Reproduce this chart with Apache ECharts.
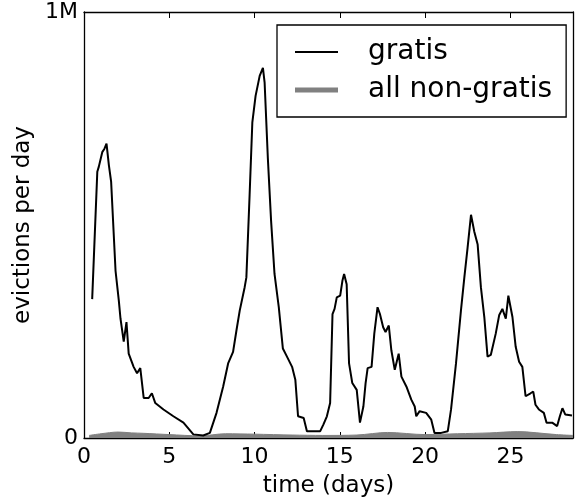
<!DOCTYPE html>
<html>
<head>
<meta charset="utf-8">
<script src="https://cdn.jsdelivr.net/npm/echarts@6/dist/echarts.min.js"></script>
<style>html,body{margin:0;padding:0;background:#fff}#c{width:576px;height:503px}</style>
</head>
<body>
<div id="c"></div>
<script>
const gratisDays = [0.48,0.78,0.87,1.07,1.2,1.32,1.46,1.59,1.85,2.04,2.14,2.33,2.49,2.62,2.91,3.11,3.3,3.5,3.79,3.98,4.18,4.66,5.24,5.83,6.41,6.99,7.38,7.77,8.16,8.45,8.74,8.94,9.13,9.42,9.52,9.71,9.87,10.06,10.3,10.49,10.59,10.78,10.97,11.17,11.42,11.66,11.9,12.2,12.39,12.55,12.88,13.07,13.85,14.04,14.24,14.43,14.57,14.69,14.82,15.02,15.15,15.25,15.4,15.54,15.73,15.99,16.18,16.38,16.51,16.63,16.86,17.02,17.21,17.35,17.54,17.68,17.87,18.02,18.22,18.45,18.61,18.9,19.19,19.39,19.48,19.68,20.06,20.36,20.55,20.94,21.33,21.52,21.81,22.1,22.3,22.49,22.69,22.88,23.08,23.27,23.47,23.66,23.85,24.14,24.34,24.53,24.73,24.88,25.12,25.31,25.51,25.7,25.89,26.18,26.34,26.47,26.67,26.96,27.12,27.45,27.74,27.9,28.05,28.22,28.61];
const gratisValues = [326000,625000,637000,671000,679000,691000,640000,602000,392000,323000,280000,226000,272000,198000,167000,152000,164000,94000,94000,105000,82000,67000,51000,36000,8500,6000,12000,59000,121000,175000,202000,253000,299000,354000,377000,571000,741000,803000,850000,869000,834000,656000,509000,385000,307000,210000,191000,167000,137000,51000,47000,16000,16000,32000,51000,82000,291000,303000,330000,334000,369000,385000,361000,175000,129000,113000,36000,74000,129000,164000,167000,245000,307000,291000,260000,249000,264000,206000,160000,198000,144000,121000,90000,74000,51000,63000,59000,43000,12000,12000,16000,67000,175000,299000,377000,447000,524000,485000,454000,354000,284000,191000,195000,245000,288000,303000,280000,334000,284000,214000,179000,167000,98000,105000,109000,78000,67000,59000,36000,36000,28000,51000,70000,55000,53000];
const nongratisDays = [0.3,1.0,2.0,2.8,3.5,5.0,6.8,8.3,10.0,12.2,14.0,16.0,17.8,20.0,21.9,23.8,25.4,27.7,28.67];
const nongratisValues = [6000,10000,14000,12000,11000,8000,5000,10000,9000,7000,6000,7000,13000,8000,10000,12000,15000,8000,6000];
const xTicks = [0,5,10,15,20,25];
const yTickLabels = {0:'0',1000000:'1M'};

const font = 'DejaVu Sans';
const chart = echarts.init(document.getElementById('c'), null, {renderer:'canvas'});
const pair = (xs, ys) => xs.map((x,i)=>[x, ys[i]]);
const xmax = 28.67;
chart.setOption({
  animation:false,
  backgroundColor:'#fff',
  grid:{left:84, top:12, right:0, bottom:61, containLabel:false},
  legend:{
    orient:'vertical', left:277, top:25,
    padding:[12,14,12,18],
    itemWidth:43, itemHeight:14, itemGap:8,
    borderColor:'#000', borderWidth:1.3, borderRadius:0,
    backgroundColor:'#fff',
    textStyle:{fontFamily:font, fontSize:28, color:'#000', lineHeight:30, padding:[0,0,0,25]},
    data:[
      {name:'gratis', icon:'path://M0,0M43,14M0,6H43V8H0Z', itemStyle:{color:'#000'}},
      {name:'all non-gratis', icon:'path://M0,0M43,14M0,4.5H43V9.5H0Z', itemStyle:{color:'#808080'}}
    ]
  },
  xAxis:[{
    type:'value', min:0, max:xmax, interval:5, position:'bottom',
    name:'time (days)', nameLocation:'middle', nameGap:37,
    nameTextStyle:{fontFamily:font, fontSize:23, color:'#000'},
    axisLine:{show:true, onZero:false, lineStyle:{color:'#000', width:1.3}},
    axisTick:{show:true, inside:true, length:6, lineStyle:{color:'#000', width:1}},
    axisLabel:{fontFamily:font, fontSize:22, color:'#000', margin:8,
      formatter:v=>xTicks.includes(v)?String(v):''},
    splitLine:{show:false}
  },{
    type:'value', min:0, max:xmax, interval:5, position:'top',
    axisLine:{show:true, onZero:false, lineStyle:{color:'#000', width:1.3}},
    axisTick:{show:true, inside:true, length:6, lineStyle:{color:'#000', width:1}},
    axisLabel:{show:false}, splitLine:{show:false}
  }],
  yAxis:[{
    type:'value', min:0, max:1000000, interval:1000000, position:'left',
    name:'evictions per day', nameLocation:'middle', nameGap:35, nameRotate:90,
    nameTextStyle:{fontFamily:font, fontSize:23, color:'#000'},
    axisLine:{show:true, onZero:false, lineStyle:{color:'#000', width:1.3}},
    axisTick:{show:true, inside:true, length:6, lineStyle:{color:'#000', width:1}},
    axisLabel:{fontFamily:font, fontSize:22, color:'#000', margin:6,
      formatter:v=>yTickLabels[v]!==undefined?yTickLabels[v]:''},
    splitLine:{show:false}
  },{
    type:'value', min:0, max:1000000, interval:1000000, position:'right',
    axisLine:{show:true, onZero:false, lineStyle:{color:'#000', width:1.3}},
    axisTick:{show:false}, axisLabel:{show:false}, splitLine:{show:false}
  }],
  series:[{
    name:'gratis', type:'line', xAxisIndex:0, yAxisIndex:0,
    data:pair(gratisDays, gratisValues),
    symbol:'none', showSymbol:false, clip:true,
    lineStyle:{color:'#000', width:2}, itemStyle:{color:'#000'}, z:3
  },{
    name:'all non-gratis', type:'line', xAxisIndex:0, yAxisIndex:0,
    data:pair(nongratisDays, nongratisValues),
    symbol:'none', showSymbol:false, clip:true, smooth:0.3,
    lineStyle:{color:'#808080', width:1},
    areaStyle:{color:'#808080', opacity:1, origin:'start'},
    itemStyle:{color:'#808080'}, z:2
  }]
});
</script>
</body>
</html>
